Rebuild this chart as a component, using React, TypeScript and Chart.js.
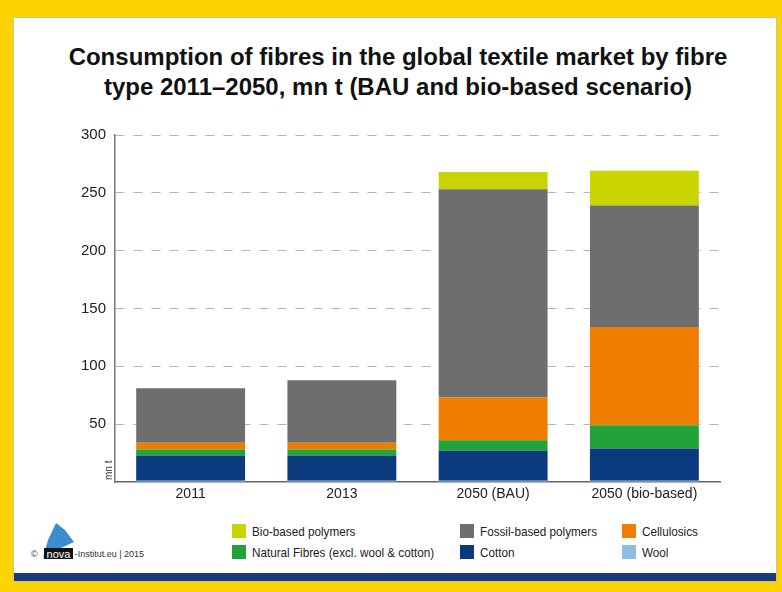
import React, { useEffect, useRef } from "react";
import { Chart, registerables } from "chart.js";
Chart.register(...registerables);

const categories = ["2011", "2013", "2050 (BAU)", "2050 (bio-based)"];
const wool = [1, 1, 1, 1];
const cotton = [22, 22, 26, 28];
const naturalFibres = [5, 5, 9, 20];
const cellulosics = [6, 6, 37, 85];
const fossilBased = [47, 54, 180, 105];
const bioBased = [0, 0, 15, 30];

const seriesNames = [
  "Wool",
  "Cotton",
  "Natural Fibres (excl. wool & cotton)",
  "Cellulosics",
  "Fossil-based polymers",
  "Bio-based polymers",
];
const seriesColors = ["#8CBDE5", "#0B3A7E", "#22A33A", "#EE7D00", "#6E6E6E", "#C9D400"];
const legendOrder = [
  "Bio-based polymers",
  "Fossil-based polymers",
  "Cellulosics",
  "Natural Fibres (excl. wool & cotton)",
  "Cotton",
  "Wool",
];

const FONT = "'Liberation Sans', Arial, Helvetica, sans-serif";

const mntPlugin = {
  id: "mnt",
  afterDraw(chart: any) {
    const ctx = chart.ctx;
    ctx.save();
    ctx.translate(chart.chartArea.left - 6, chart.chartArea.bottom - 2);
    ctx.rotate(-Math.PI / 2);
    ctx.font = `10px ${FONT}`;
    ctx.fillStyle = "#333";
    ctx.textAlign = "left";
    ctx.textBaseline = "middle";
    ctx.fillText("mn t", 0, 0);
    ctx.restore();
  },
};

export default function App() {
  const ref = useRef<HTMLCanvasElement | null>(null);
  useEffect(() => {
    if (!ref.current) return;
    const values = [wool, cotton, naturalFibres, cellulosics, fossilBased, bioBased];
    const chart = new Chart(ref.current, {
      type: "bar",
      data: {
        labels: categories,
        datasets: values.map((v, i) => ({
          label: seriesNames[i],
          data: v,
          backgroundColor: seriesColors[i],
          borderWidth: 0,
          barPercentage: 0.72,
          categoryPercentage: 1,
        })),
      },
      options: {
        responsive: false,
        animation: false,
        layout: { padding: { left: 0, right: 62, top: 135, bottom: 80 } },
        plugins: { legend: { display: false }, tooltip: { enabled: false }, title: { display: false } },
        scales: {
          x: {
            stacked: true,
            grid: { display: false, drawTicks: false },
            border: { display: true, color: "#666", width: 1.5 },
            ticks: { color: "#222", font: { family: FONT, size: 14 }, padding: 4 },
            afterFit: (s: any) => { s.height = 30; },
          },
          y: {
            stacked: true,
            min: 0,
            max: 300,
            ticks: {
              stepSize: 50,
              color: "#222",
              font: { family: FONT, size: 15 },
              padding: 9,
              callback: (v: any) => (v === 0 ? "" : String(v)),
            },
            grid: {
              drawTicks: false,
              color: (c: any) => (c.tick && c.tick.value === 0 ? "rgba(0,0,0,0)" : "#b5b5b5"),
              lineWidth: 1,
            },
            border: { display: true, color: "#777", width: 1.5, dash: [9, 9] },
            afterFit: (s: any) => { s.width = 115; },
          },
        },
      },
      plugins: [mntPlugin],
    } as any);
    return () => chart.destroy();
  }, []);

  const legendPos: Record<string, [number, number]> = {
    "Bio-based polymers": [232, 524],
    "Fossil-based polymers": [460, 524],
    "Cellulosics": [622, 524],
    "Natural Fibres (excl. wool & cotton)": [232, 545],
    "Cotton": [460, 545],
    "Wool": [622, 545],
  };

  return (
    <div style={{ position: "fixed", left: 0, top: 0, width: 782, height: 592, background: "#FCD400", overflow: "hidden" }}>
      <div style={{ position: "absolute", left: 14, top: 18, width: 762, height: 563, background: "#fff", boxShadow: "0 0 0 1px #c9c2a0" }} />
      <div style={{ position: "absolute", left: 14, top: 573, width: 762, height: 8, background: "#1B3A7A" }} />
      <div style={{ position: "absolute", left: 7, top: 42, width: 782, textAlign: "center", fontFamily: FONT, fontWeight: "bold", fontSize: 24, lineHeight: "30px", color: "#111" }}>
        Consumption of fibres in the global textile market by fibre
        <br />
        type 2011–2050, mn t (BAU and bio-based scenario)
      </div>
      {legendOrder.map((name) => {
        const idx = seriesNames.indexOf(name);
        const [x, y] = legendPos[name];
        return (
          <div key={name} style={{ position: "absolute", left: x, top: y, height: 14, display: "flex", alignItems: "center" }}>
            <div style={{ width: 14, height: 14, background: seriesColors[idx] }} />
            <span style={{ marginLeft: 6, fontFamily: FONT, fontSize: 13, color: "#222", whiteSpace: "nowrap", display: "inline-block", transform: "scaleX(0.9)", transformOrigin: "left center" }}>{name}</span>
          </div>
        );
      })}
      <div style={{ position: "absolute", left: 31, top: 520, height: 42, display: "flex", alignItems: "flex-end", fontFamily: FONT, fontSize: 9, color: "#333" }}>
        <span style={{ marginBottom: 3 }}>©</span>
        <svg width="36" height="42" viewBox="0 0 36 42" style={{ marginLeft: 1 }}>
          <polygon points="3,41 9,20 17,3 26,10 35,22 22,28 8,28" fill="#3C8DD0" />
          <rect x="5" y="28" width="29" height="11" fill="#111" />
          <text x="19.5" y="37.5" textAnchor="middle" fontFamily={FONT} fontSize="11" fill="#fff">nova</text>
        </svg>
        <span style={{ marginBottom: 3 }}>-Institut.eu | 2015</span>
      </div>
      <canvas ref={ref} width={782} height={592} style={{ position: "absolute", left: 0, top: 0, width: 782, height: 592 }} />
    </div>
  );
}
